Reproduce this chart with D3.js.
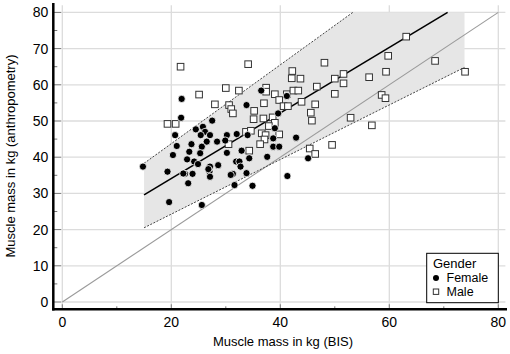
<!DOCTYPE html>
<html lang="en">
<head>
<meta charset="utf-8">
<title>Muscle mass</title>
<script src="https://cdn.jsdelivr.net/npm/d3@7"></script>
<style>
body { margin: 0; background: #fff; }
svg text { font-family: "Liberation Sans", Arial, sans-serif; fill: #000; }
.grid line { stroke: #dcdcdc; stroke-width: 1.3; }
</style>
</head>
<body>
<script>
var w = 510, h = 354;

// female points [BIS, anthropometry]
var female = [[14.8, 37.4], [19.3, 36.0], [19.6, 27.6], [25.6, 26.8], [21.9, 56.1], [21.8, 50.9],
  [36.5, 58.4], [41.2, 56.9], [33.8, 54.4], [39.6, 52.1], [27.5, 50.1], [39.0, 48.0],
  [20.7, 46.1], [24.5, 47.7], [25.8, 48.4], [26.2, 47.0], [25.4, 46.1], [27.1, 46.1],
  [30.2, 46.1], [32.0, 46.4], [34.0, 46.1], [42.9, 45.4], [26.5, 44.3], [29.9, 44.6],
  [28.4, 44.3], [21.0, 43.1], [23.7, 43.6], [25.6, 42.9], [38.7, 42.9], [39.8, 42.9],
  [20.3, 40.6], [23.3, 41.5], [25.3, 41.1], [30.2, 41.2], [32.9, 41.8], [22.9, 39.4],
  [24.2, 38.8], [37.6, 40.1], [45.1, 39.7], [24.9, 38.1], [27.1, 37.4], [28.6, 37.8],
  [31.9, 38.8], [32.5, 38.8], [32.7, 37.4], [27.0, 36.0], [22.5, 35.4], [23.9, 35.4],
  [31.3, 35.4], [33.8, 35.6], [41.3, 34.8], [30.9, 35.1], [23.1, 32.8], [27.1, 34.6],
  [31.6, 32.3], [34.9, 32.1], [34.3, 39.7], [22.2, 35.5], [26.8, 36.7], [38.7, 45.2]];

// male points [BIS, anthropometry]
var male = [[21.7, 65.0], [34.1, 65.7], [48.1, 66.1], [42.2, 63.8], [42.1, 61.8], [43.7, 61.7],
  [50.0, 61.7], [30.0, 59.1], [32.4, 58.4], [37.4, 59.2], [37.4, 58.1], [39.0, 57.4],
  [41.2, 57.4], [42.4, 58.4], [43.3, 58.4], [46.7, 59.5], [50.0, 57.5], [25.1, 57.3],
  [28.0, 54.6], [30.6, 54.4], [31.0, 53.3], [31.3, 52.1], [39.8, 55.8], [40.6, 54.1],
  [41.4, 54.1], [43.9, 55.3], [46.4, 54.6], [37.0, 54.9], [35.2, 52.8], [35.1, 50.5],
  [36.9, 50.7], [38.6, 51.0], [39.0, 49.5], [37.9, 48.6], [45.6, 52.3], [45.8, 50.1],
  [19.3, 49.2], [20.8, 49.2], [33.7, 47.0], [34.6, 47.3], [36.6, 46.6], [37.3, 46.1],
  [39.8, 46.3], [37.1, 44.9], [36.3, 43.6], [30.5, 43.6], [34.3, 41.8], [49.5, 43.4],
  [45.4, 42.4], [46.4, 40.9], [63.1, 73.3], [59.8, 68.0], [68.4, 66.6], [59.4, 63.6],
  [73.9, 63.6], [56.3, 62.1], [51.6, 63.0], [51.6, 60.4], [58.6, 57.2], [59.3, 56.3],
  [52.9, 50.9], [56.8, 48.8]];

// regression line, prediction band, identity line
var regX = [15, 70.7], regY = [29.6, 80];
var bandX = [15, 53.3, 73.8];
var bandUpper = [38.3, 80, 80];
var bandLower = [20.5, 49.4, 64.8];
var upperX = [15, 53.3], upperY = [38.3, 80];
var identX = [0, 80], identY = [0, 80];

var xTicks = [0, 20, 40, 60, 80];
var yTicks = [0, 10, 20, 30, 40, 50, 60, 70, 80];
var xMinor = d3.range(0, 81, 10);
var yMinor = d3.range(0, 81, 5);

var x = d3.scaleLinear().domain([0, 80]).range([62.3, 498.3]);
var y = d3.scaleLinear().domain([0, 80]).range([302, 12.4]);
var axisX = 53.3, axisY = 309.3;

var svg = d3.select("body").append("svg")
  .attr("width", w)
  .attr("height", h);

// grid
var grid = svg.append("g").attr("class", "grid");
grid.selectAll(".gx").data(xTicks).enter().append("line")
  .attr("x1", function (d) { return x(d); })
  .attr("x2", function (d) { return x(d); })
  .attr("y1", y(82)).attr("y2", y(-1.3));
grid.selectAll(".gy").data(yTicks).enter().append("line")
  .attr("x1", x(0)).attr("x2", x(81.3))
  .attr("y1", function (d) { return y(d); })
  .attr("y2", function (d) { return y(d); });

// prediction band
var band = bandX.map(function (d, i) { return [d, bandLower[i], bandUpper[i]]; });
svg.append("path")
  .datum(band)
  .attr("fill", "#e6e6e6")
  .attr("d", d3.area()
    .x(function (d) { return x(d[0]); })
    .y0(function (d) { return y(d[1]); })
    .y1(function (d) { return y(d[2]); }));

var line = d3.line()
  .x(function (d) { return x(d[0]); })
  .y(function (d) { return y(d[1]); });

function pairs(a, b) { return a.map(function (d, i) { return [d, b[i]]; }); }

// identity line
svg.append("path")
  .datum(pairs(identX, identY))
  .attr("fill", "none").attr("stroke", "#9a9a9a").attr("stroke-width", 1.1)
  .attr("d", line);

// prediction limits
svg.append("path")
  .datum(pairs(upperX, upperY))
  .attr("fill", "none").attr("stroke", "#444").attr("stroke-width", 1)
  .attr("stroke-dasharray", "2,1.5")
  .attr("d", line);
svg.append("path")
  .datum(pairs(bandX, bandLower))
  .attr("fill", "none").attr("stroke", "#444").attr("stroke-width", 1)
  .attr("stroke-dasharray", "2,1.5")
  .attr("d", line);

// regression
svg.append("path")
  .datum(pairs(regX, regY))
  .attr("fill", "none").attr("stroke", "#000").attr("stroke-width", 1.6)
  .attr("d", line);

// points
svg.append("g").selectAll("rect").data(male).enter().append("rect")
  .attr("x", function (d) { return x(d[0]) - 3.3; })
  .attr("y", function (d) { return y(d[1]) - 3.3; })
  .attr("width", 6.6).attr("height", 6.6)
  .attr("fill", "#fff").attr("stroke", "#333").attr("stroke-width", 1);

svg.append("g").selectAll("circle").data(female).enter().append("circle")
  .attr("cx", function (d) { return x(d[0]); })
  .attr("cy", function (d) { return y(d[1]); })
  .attr("r", 3.6)
  .attr("fill", "#000").attr("stroke", "#fff").attr("stroke-width", 0.8);

// axes
var ax = svg.append("g");
ax.selectAll(".ty").data(yMinor).enter().append("line")
  .attr("x1", axisX)
  .attr("x2", function (d) { return axisX + (d % 10 === 0 ? 8 : 4); })
  .attr("y1", function (d) { return y(d); })
  .attr("y2", function (d) { return y(d); })
  .attr("stroke", "#777").attr("stroke-width", 1);
ax.selectAll(".tx").data(xMinor).enter().append("line")
  .attr("x1", function (d) { return x(d); })
  .attr("x2", function (d) { return x(d); })
  .attr("y1", axisY)
  .attr("y2", function (d) { return axisY - (d % 20 === 0 ? 5 : 3); })
  .attr("stroke", "#777").attr("stroke-width", 1);
ax.append("line")
  .attr("x1", axisX).attr("x2", axisX).attr("y1", 3).attr("y2", axisY + 1.2)
  .attr("stroke", "#000").attr("stroke-width", 2.5);
ax.append("line")
  .attr("x1", axisX - 1.2).attr("x2", 507).attr("y1", axisY).attr("y2", axisY)
  .attr("stroke", "#000").attr("stroke-width", 2.5);

ax.selectAll(".ly").data(yTicks).enter().append("text")
  .attr("x", axisX - 5)
  .attr("y", function (d) { return y(d) + 5; })
  .attr("text-anchor", "end")
  .style("font-size", "14px")
  .text(function (d) { return d; });
ax.selectAll(".lx").data(xTicks).enter().append("text")
  .attr("x", function (d) { return x(d); })
  .attr("y", 327)
  .attr("text-anchor", "middle")
  .style("font-size", "14px")
  .text(function (d) { return d; });

svg.append("text")
  .attr("x", 283).attr("y", 346)
  .attr("text-anchor", "middle")
  .style("font-size", "13px")
  .text("Muscle mass in kg (BIS)");
svg.append("text")
  .attr("transform", "translate(15,156) rotate(-90)")
  .attr("text-anchor", "middle")
  .style("font-size", "13px")
  .text("Muscle mass in kg (anthropometry)");

// legend
var lg = svg.append("g");
lg.append("rect")
  .attr("x", 426.7).attr("y", 253.3).attr("width", 71.6).attr("height", 49.4)
  .attr("fill", "#fff").attr("stroke", "#000").attr("stroke-width", 1);
lg.append("text").attr("x", 433).attr("y", 267.7).style("font-size", "13px").text("Gender");
lg.append("circle").attr("cx", 436).attr("cy", 278).attr("r", 3).attr("fill", "#000");
lg.append("text").attr("x", 446.5).attr("y", 282).style("font-size", "12.5px").text("Female");
lg.append("rect").attr("x", 433.3).attr("y", 289).attr("width", 5.4).attr("height", 5.4)
  .attr("fill", "#fff").attr("stroke", "#333");
lg.append("text").attr("x", 446.5).attr("y", 295.5).style("font-size", "12.5px").text("Male");
</script>
</body>
</html>
